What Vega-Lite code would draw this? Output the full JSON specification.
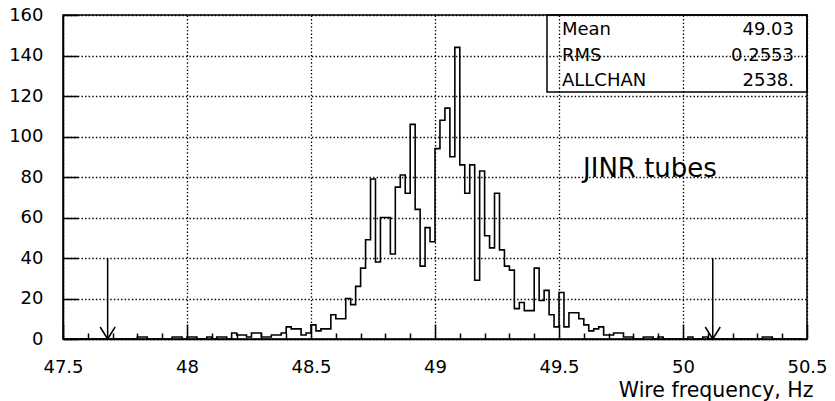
{
  "$schema": "https://vega.github.io/schema/vega-lite/v6.json",
  "width": 744,
  "height": 324,
  "autosize": {"type": "none"},
  "padding": {"left": 63, "top": 15, "right": 28, "bottom": 62},
  "background": "white",
  "config": {
    "view": {"stroke": "black", "strokeWidth": 1.5},
    "font": "DejaVu Sans",
    "axis": {
      "domainColor": "black", "domainWidth": 1.5,
      "tickColor": "black", "tickWidth": 1.5,
      "labelColor": "black", "labelFont": "DejaVu Sans", "labelFontSize": 18,
      "gridColor": "black", "gridDash": [1.4, 2.2], "gridWidth": 1.3,
      "titleColor": "black", "titleFont": "DejaVu Sans", "titleFontWeight": "normal"
    }
  },
  "datasets": {
    "hist": [
      {"lo": 47.50, "n": 0}, {"lo": 47.52, "n": 0}, {"lo": 47.54, "n": 0}, {"lo": 47.56, "n": 0}, {"lo": 47.58, "n": 0},
      {"lo": 47.60, "n": 0}, {"lo": 47.62, "n": 0}, {"lo": 47.64, "n": 0}, {"lo": 47.66, "n": 0}, {"lo": 47.68, "n": 0},
      {"lo": 47.70, "n": 0}, {"lo": 47.72, "n": 0}, {"lo": 47.74, "n": 0}, {"lo": 47.76, "n": 0}, {"lo": 47.78, "n": 0},
      {"lo": 47.80, "n": 1}, {"lo": 47.82, "n": 1}, {"lo": 47.84, "n": 0}, {"lo": 47.86, "n": 0}, {"lo": 47.88, "n": 0},
      {"lo": 47.90, "n": 0}, {"lo": 47.92, "n": 0}, {"lo": 47.94, "n": 1}, {"lo": 47.96, "n": 1}, {"lo": 47.98, "n": 0},
      {"lo": 48.00, "n": 1}, {"lo": 48.02, "n": 1}, {"lo": 48.04, "n": 0}, {"lo": 48.06, "n": 0}, {"lo": 48.08, "n": 1},
      {"lo": 48.10, "n": 0}, {"lo": 48.12, "n": 1}, {"lo": 48.14, "n": 1}, {"lo": 48.16, "n": 0}, {"lo": 48.18, "n": 3},
      {"lo": 48.20, "n": 2}, {"lo": 48.22, "n": 2}, {"lo": 48.24, "n": 1}, {"lo": 48.26, "n": 3}, {"lo": 48.28, "n": 3},
      {"lo": 48.30, "n": 1}, {"lo": 48.32, "n": 1}, {"lo": 48.34, "n": 2}, {"lo": 48.36, "n": 2}, {"lo": 48.38, "n": 3},
      {"lo": 48.40, "n": 6}, {"lo": 48.42, "n": 5}, {"lo": 48.44, "n": 5}, {"lo": 48.46, "n": 2}, {"lo": 48.48, "n": 3},
      {"lo": 48.50, "n": 7}, {"lo": 48.52, "n": 4}, {"lo": 48.54, "n": 5}, {"lo": 48.56, "n": 5}, {"lo": 48.58, "n": 12},
      {"lo": 48.60, "n": 10}, {"lo": 48.62, "n": 10}, {"lo": 48.64, "n": 20}, {"lo": 48.66, "n": 17}, {"lo": 48.68, "n": 26},
      {"lo": 48.70, "n": 35}, {"lo": 48.72, "n": 49}, {"lo": 48.74, "n": 79}, {"lo": 48.76, "n": 38}, {"lo": 48.78, "n": 60},
      {"lo": 48.80, "n": 60}, {"lo": 48.82, "n": 42}, {"lo": 48.84, "n": 75}, {"lo": 48.86, "n": 81}, {"lo": 48.88, "n": 72},
      {"lo": 48.90, "n": 106}, {"lo": 48.92, "n": 64}, {"lo": 48.94, "n": 36}, {"lo": 48.96, "n": 55}, {"lo": 48.98, "n": 48},
      {"lo": 49.00, "n": 94}, {"lo": 49.02, "n": 108}, {"lo": 49.04, "n": 114}, {"lo": 49.06, "n": 90}, {"lo": 49.08, "n": 144},
      {"lo": 49.10, "n": 86}, {"lo": 49.12, "n": 72}, {"lo": 49.14, "n": 86}, {"lo": 49.16, "n": 29}, {"lo": 49.18, "n": 83},
      {"lo": 49.20, "n": 51}, {"lo": 49.22, "n": 45}, {"lo": 49.24, "n": 72}, {"lo": 49.26, "n": 44}, {"lo": 49.28, "n": 36},
      {"lo": 49.30, "n": 34}, {"lo": 49.32, "n": 15}, {"lo": 49.34, "n": 18}, {"lo": 49.36, "n": 14}, {"lo": 49.38, "n": 14},
      {"lo": 49.40, "n": 35}, {"lo": 49.42, "n": 19}, {"lo": 49.44, "n": 24}, {"lo": 49.46, "n": 12}, {"lo": 49.48, "n": 6},
      {"lo": 49.50, "n": 23}, {"lo": 49.52, "n": 6}, {"lo": 49.54, "n": 13}, {"lo": 49.56, "n": 13}, {"lo": 49.58, "n": 10},
      {"lo": 49.60, "n": 7}, {"lo": 49.62, "n": 4}, {"lo": 49.64, "n": 5}, {"lo": 49.66, "n": 6}, {"lo": 49.68, "n": 2},
      {"lo": 49.70, "n": 2}, {"lo": 49.72, "n": 3}, {"lo": 49.74, "n": 3}, {"lo": 49.76, "n": 1}, {"lo": 49.78, "n": 1},
      {"lo": 49.80, "n": 0}, {"lo": 49.82, "n": 0}, {"lo": 49.84, "n": 1}, {"lo": 49.86, "n": 1}, {"lo": 49.88, "n": 0},
      {"lo": 49.90, "n": 1}, {"lo": 49.92, "n": 0}, {"lo": 49.94, "n": 0}, {"lo": 49.96, "n": 0}, {"lo": 49.98, "n": 0},
      {"lo": 50.00, "n": 0}, {"lo": 50.02, "n": 1}, {"lo": 50.04, "n": 0}, {"lo": 50.06, "n": 0}, {"lo": 50.08, "n": 1},
      {"lo": 50.10, "n": 0}, {"lo": 50.12, "n": 0}, {"lo": 50.14, "n": 0}, {"lo": 50.16, "n": 0}, {"lo": 50.18, "n": 0},
      {"lo": 50.20, "n": 0}, {"lo": 50.22, "n": 0}, {"lo": 50.24, "n": 0}, {"lo": 50.26, "n": 0}, {"lo": 50.28, "n": 0},
      {"lo": 50.30, "n": 0}, {"lo": 50.32, "n": 1}, {"lo": 50.34, "n": 1}, {"lo": 50.36, "n": 0}, {"lo": 50.38, "n": 0},
      {"lo": 50.40, "n": 0}, {"lo": 50.42, "n": 0}, {"lo": 50.44, "n": 0}, {"lo": 50.46, "n": 0}, {"lo": 50.48, "n": 0}
    ],
    "cuts": [{"cut": 47.68}, {"cut": 50.12}],
    "note": [{"label": "JINR tubes"}],
    "stats": [
      {"stat": "Mean", "value": "49.03"},
      {"stat": "RMS", "value": "0.2553"},
      {"stat": "ALLCHAN", "value": "2538."}
    ]
  },
  "layer": [
    {
      "layer": [
        {
          "data": {"name": "hist"},
          "mark": {"type": "line", "interpolate": "step-after", "color": "black", "strokeWidth": 1.6},
          "encoding": {
            "x": {
              "field": "lo", "type": "quantitative",
              "scale": {"domain": [47.5, 50.5], "nice": false, "zero": false},
              "axis": {
                "orient": "bottom",
                "values": [47.5, 48, 48.5, 49, 49.5, 50, 50.5],
                "format": ".1~f",
                "tickSize": -15,
                "grid": true,
                "labelPadding": 34,
                "labelBaseline": "top",
                "labelFlush": false,
                "labelOverlap": false,
                "title": "Wire frequency, Hz",
                "titleFontSize": 20.5,
                "titleAlign": "right",
                "titleAnchor": null,
                "titleX": 750,
                "titleY": 57,
                "titleBaseline": "alphabetic"
              }
            },
            "y": {
              "field": "n", "type": "quantitative",
              "scale": {"domain": [0, 160], "nice": false},
              "axis": {
                "values": [0, 5, 10, 15, 20, 25, 30, 35, 40, 45, 50, 55, 60, 65, 70, 75, 80, 85, 90, 95, 100, 105, 110, 115, 120, 125, 130, 135, 140, 145, 150, 155, 160],
                "labelExpr": "datum.value % 20 == 0 ? datum.label : ''",
                "tickSize": {"condition": {"test": "datum.value % 20 == 0", "value": -15}, "value": -6},
                "gridOpacity": {"condition": {"test": "datum.value % 20 == 0", "value": 1}, "value": 0},
                "labelPadding": 35,
                "labelFlush": false,
                "labelOverlap": false,
                "title": null
              }
            }
          }
        },
        {
          "data": {"name": "cuts"},
          "mark": {"type": "rule", "color": "black", "strokeWidth": 1.5},
          "encoding": {
            "x": {
              "field": "cut", "type": "quantitative",
              "axis": {
                "orient": "bottom",
                "values": [47.6, 47.7, 47.8, 47.9, 48.1, 48.2, 48.3, 48.4, 48.6, 48.7, 48.8, 48.9, 49.1, 49.2, 49.3, 49.4, 49.6, 49.7, 49.8, 49.9, 50.1, 50.2, 50.3, 50.4],
                "tickSize": -6,
                "labels": false,
                "grid": false,
                "domain": false,
                "title": null
              }
            },
            "y": {"datum": 0},
            "y2": {"datum": 40}
          }
        },
        {
          "data": {"name": "cuts"},
          "mark": {"type": "point", "shape": "M-1,-1.6L0,0L1,-1.6", "filled": false, "stroke": "black", "strokeWidth": 1.5, "size": 225, "opacity": 1},
          "encoding": {
            "x": {"field": "cut", "type": "quantitative", "axis": null},
            "y": {"datum": 0}
          }
        },
        {
          "data": {"name": "note"},
          "mark": {"type": "text", "align": "left", "baseline": "alphabetic", "fontSize": 26, "font": "DejaVu Sans", "color": "black"},
          "encoding": {
            "x": {"datum": 49.597, "axis": null},
            "y": {"datum": 79.85},
            "text": {"field": "label"}
          }
        },
        {
          "data": {"name": "note"},
          "mark": {"type": "rect", "fill": null, "fillOpacity": 0, "stroke": "black", "strokeWidth": 1.5},
          "encoding": {
            "x": {"datum": 49.4516, "axis": null},
            "x2": {"datum": 50.5},
            "y": {"datum": 160},
            "y2": {"datum": 122}
          }
        }
      ],
      "resolve": {"axis": {"x": "independent"}}
    },
    {
      "data": {"name": "stats"},
      "encoding": {
        "y": {"field": "stat", "type": "ordinal", "scale": {"type": "point", "domain": ["Mean", "RMS", "ALLCHAN"], "range": [20, 71], "padding": 0}, "axis": null}
      },
      "layer": [
        {
          "mark": {"type": "text", "align": "left", "baseline": "alphabetic", "fontSize": 18, "font": "DejaVu Sans", "color": "black"},
          "encoding": {"x": {"datum": 49.512, "axis": null}, "text": {"field": "stat"}}
        },
        {
          "mark": {"type": "text", "align": "right", "baseline": "alphabetic", "fontSize": 18, "font": "DejaVu Sans", "color": "black"},
          "encoding": {"x": {"datum": 50.4476, "axis": null}, "text": {"field": "value"}}
        }
      ]
    }
  ],
  "resolve": {"scale": {"y": "independent"}, "axis": {"x": "independent"}}
}
